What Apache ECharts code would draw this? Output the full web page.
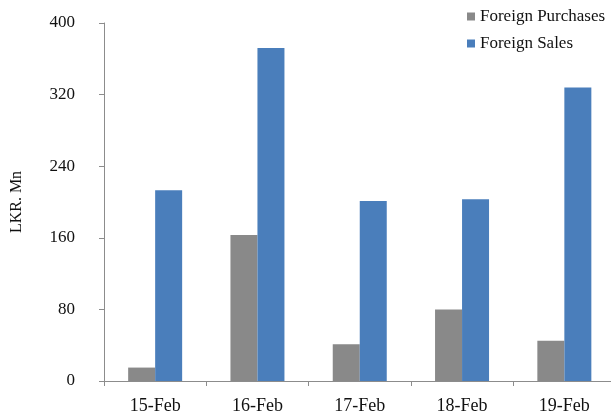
<!DOCTYPE html>
<html>
<head>
<meta charset="utf-8">
<script src="https://cdn.jsdelivr.net/npm/echarts@6/dist/echarts.min.js"></script>
<style>
  html, body { margin: 0; padding: 0; background: #fff; }
  #chart { width: 611px; height: 416px; }
</style>
</head>
<body>
<div id="chart"></div>
<script>
// Daily foreign trading, LKR millions
const days = ['15-Feb', '16-Feb', '17-Feb', '18-Feb', '19-Feb'];
const foreignPurchases = [15, 163, 41, 80, 45];
const foreignSales = [213, 372, 201, 203, 328];
const yTicks = { min: 0, max: 400, step: 80 };

const serif = '"Liberation Serif", "DejaVu Serif", serif';
const axisGrey = '#8c8c8c';

const chart = echarts.init(document.getElementById('chart'), null, { renderer: 'canvas' });
chart.setOption({
  animation: false,
  backgroundColor: '#ffffff',
  legend: {
    orient: 'vertical',
    left: 462,
    top: 3,
    itemWidth: 8,
    itemHeight: 8,
    itemGap: 10,
    icon: 'rect',
    textStyle: { fontFamily: serif, fontSize: 17, color: '#111' },
    data: ['Foreign Purchases', 'Foreign Sales']
  },
  // the last category runs slightly past the right edge, so keep the grid unclamped
  grid: {
    left: 104, top: 23, width: 511.5, height: 358,
    containLabel: false,
    outerBoundsMode: 'none'
  },
  xAxis: {
    type: 'category',
    data: days,
    boundaryGap: true,
    axisLine: { lineStyle: { color: axisGrey, width: 1 } },
    axisTick: { show: true, length: 5, lineStyle: { color: axisGrey } },
    axisLabel: { fontFamily: serif, fontSize: 18, color: '#111', margin: 16 }
  },
  yAxis: {
    type: 'value',
    min: yTicks.min,
    max: yTicks.max,
    interval: yTicks.step,
    name: 'LKR. Mn',
    nameLocation: 'middle',
    nameGap: 79,
    nameRotate: 90,
    nameTextStyle: { fontFamily: serif, fontSize: 16, color: '#111' },
    axisLine: { show: true, lineStyle: { color: axisGrey, width: 1 } },
    axisTick: { show: true, length: 5, lineStyle: { color: axisGrey } },
    splitLine: { show: false },
    axisLabel: { fontFamily: serif, fontSize: 17, color: '#111', margin: 29 }
  },
  series: [
    {
      name: 'Foreign Purchases',
      type: 'bar',
      data: foreignPurchases,
      barWidth: 27,
      barGap: '0%',
      itemStyle: { color: '#898989' }
    },
    {
      name: 'Foreign Sales',
      type: 'bar',
      data: foreignSales,
      barWidth: 27,
      barGap: '0%',
      itemStyle: { color: '#4a7ebb' }
    }
  ]
});
</script>
</body>
</html>
